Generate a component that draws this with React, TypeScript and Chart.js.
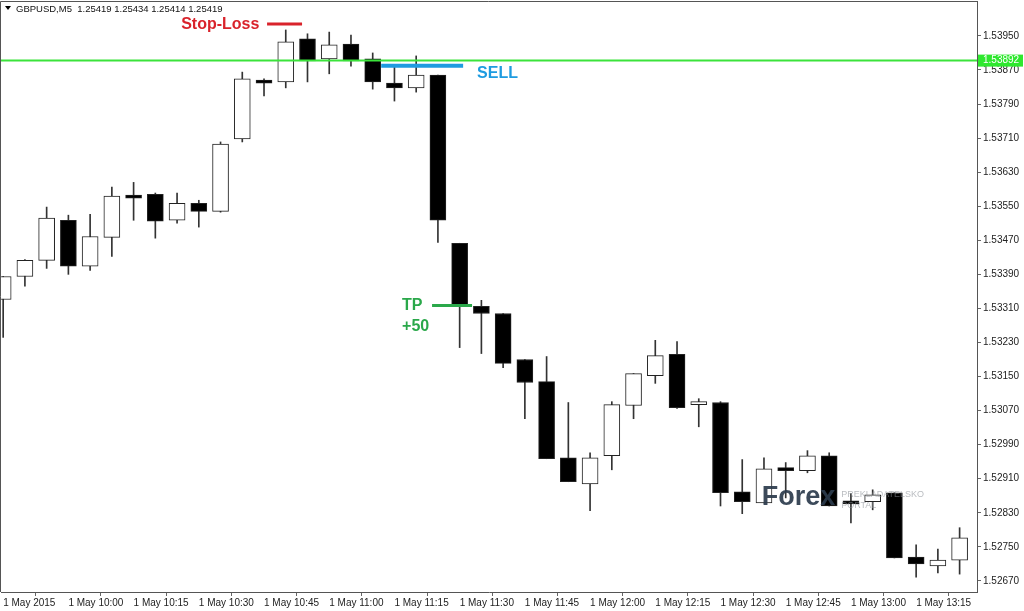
import React, { useEffect, useRef } from 'react';
import { Chart, registerables } from 'chart.js';

Chart.register(...registerables);

// ---- Data (GBPUSD M5, 1 May 2015, candles from 09:45) ----
const OPEN = [
  1.53331, 1.53385, 1.53423, 1.53517, 1.53409, 1.53477, 1.53571, 1.53578, 1.53517, 1.53557,
  1.53538, 1.53708, 1.53846, 1.53842, 1.53943, 1.53896, 1.53931, 1.53896, 1.53839, 1.53828,
  1.53858, 1.53463, 1.53315, 1.53298, 1.53190, 1.53138, 1.52959, 1.52898, 1.52964, 1.53082,
  1.53152, 1.53202, 1.53084, 1.53089, 1.52879, 1.52853, 1.52936, 1.52929, 1.52964, 1.52856,
  1.52856, 1.52877, 1.52726, 1.52705, 1.52719,
];
const HIGH = [
  1.53385, 1.53425, 1.53548, 1.53529, 1.53531, 1.53595, 1.53606, 1.53581, 1.53581, 1.53564,
  1.53701, 1.53865, 1.53849, 1.53964, 1.53955, 1.53959, 1.53952, 1.53910, 1.53877, 1.53903,
  1.53858, 1.53463, 1.53329, 1.53298, 1.53190, 1.53197, 1.53089, 1.52971, 1.53091, 1.53157,
  1.53235, 1.53232, 1.53098, 1.53091, 1.52955, 1.52959, 1.52948, 1.52976, 1.52971, 1.52875,
  1.52884, 1.52877, 1.52755, 1.52745, 1.52795,
];
const LOW = [
  1.53242, 1.53362, 1.53404, 1.53390, 1.53399, 1.53432, 1.53517, 1.53475, 1.53510, 1.53501,
  1.53536, 1.53701, 1.53809, 1.53828, 1.53842, 1.53861, 1.53879, 1.53825, 1.53797, 1.53818,
  1.53465, 1.53218, 1.53204, 1.53171, 1.53051, 1.52957, 1.52903, 1.52835, 1.52931, 1.53051,
  1.53134, 1.53075, 1.53032, 1.52846, 1.52828, 1.52853, 1.52865, 1.52924, 1.52846, 1.52806,
  1.52837, 1.52724, 1.52679, 1.52689, 1.52686,
];
const CLOSE = [
  1.53385, 1.53423, 1.53522, 1.53409, 1.53479, 1.53574, 1.53569, 1.53515, 1.53557, 1.53538,
  1.53696, 1.53849, 1.53839, 1.53936, 1.53891, 1.53929, 1.53891, 1.53842, 1.53828, 1.53858,
  1.53517, 1.53319, 1.53298, 1.53181, 1.53136, 1.52957, 1.52903, 1.52959, 1.53084, 1.53157,
  1.53199, 1.53077, 1.53089, 1.52877, 1.52856, 1.52933, 1.52929, 1.52964, 1.52846, 1.52851,
  1.52872, 1.52724, 1.52710, 1.52719, 1.52771,
];

const X_TICK_INDEX = [0, 3, 6, 9, 12, 15, 18, 21, 24, 27, 30, 33, 36, 39, 42];
const X_LABELS = [
  '1 May 2015', '1 May 10:00', '1 May 10:15', '1 May 10:30', '1 May 10:45',
  '1 May 11:00', '1 May 11:15', '1 May 11:30', '1 May 11:45', '1 May 12:00',
  '1 May 12:15', '1 May 12:30', '1 May 12:45', '1 May 13:00', '1 May 13:15',
];
const Y_TICKS = [
  1.52670, 1.52750, 1.52830, 1.52910, 1.52990, 1.53070, 1.53150, 1.53230, 1.53310,
  1.53390, 1.53470, 1.53550, 1.53630, 1.53710, 1.53790, 1.53870, 1.53950,
];

const HEADER = 'GBPUSD,M5  1.25419 1.25434 1.25414 1.25419';
const LEVEL_PRICE = 1.53892;
const STOP_LOSS = { from: 12.14, to: 13.75, price: 1.53978 };
const SELL = { from: 17.39, to: 21.16, price: 1.5388 };
const TP = { from: 19.73, to: 21.57, price: 1.53317 };

const X_MIN = -0.1;
const X_MAX = 44.8;
const Y_MIN = 1.52644;
const Y_MAX = 1.54032;

const FONT = '"Liberation Sans", Arial, sans-serif';

const overlayPlugin = {
  id: 'overlay',
  beforeDraw(chart: any) {
    const { ctx, width, height } = chart;
    ctx.save();
    ctx.fillStyle = '#ffffff';
    ctx.fillRect(0, 0, width, height);
    ctx.restore();
  },
  afterDraw(chart: any) {
    const { ctx, chartArea } = chart;
    const xs = chart.scales.x;
    const ys = chart.scales.y;
    ctx.save();
    // frame (left/top)
    ctx.strokeStyle = '#555';
    ctx.lineWidth = 1;
    ctx.beginPath();
    ctx.moveTo(0.5, chartArea.bottom);
    ctx.lineTo(0.5, chartArea.top + 0.5);
    ctx.lineTo(chartArea.right, chartArea.top + 0.5);
    ctx.stroke();

    // header
    ctx.fillStyle = '#000';
    ctx.beginPath();
    ctx.moveTo(5, 6);
    ctx.lineTo(11, 6);
    ctx.lineTo(8, 10);
    ctx.closePath();
    ctx.fill();
    ctx.font = `9.5px ${FONT}`;
    ctx.textBaseline = 'middle';
    ctx.textAlign = 'left';
    ctx.fillStyle = '#111';
    ctx.fillText(HEADER, 16, 9);

    // annotation texts
    ctx.font = `bold 16px ${FONT}`;
    ctx.fillStyle = '#d9232b';
    ctx.fillText('Stop-Loss', xs.getPixelForValue(8.19), ys.getPixelForValue(1.53976));
    ctx.fillStyle = '#1e9be0';
    ctx.fillText('SELL', xs.getPixelForValue(21.8), ys.getPixelForValue(1.53861));
    ctx.fillStyle = '#2aa84a';
    ctx.fillText('TP', xs.getPixelForValue(18.35), ys.getPixelForValue(1.53317));
    ctx.fillText('+50', xs.getPixelForValue(18.35), ys.getPixelForValue(1.53268));

    // watermark
    ctx.globalAlpha = 0.92;
    ctx.fillStyle = '#2b3b4c';
    ctx.font = `bold 27px ${FONT}`;
    ctx.fillText('Forex', xs.getPixelForValue(34.9), ys.getPixelForValue(1.52865));
    ctx.globalAlpha = 0.6;
    ctx.fillStyle = '#8a8f96';
    ctx.font = `9px ${FONT}`;
    ctx.fillText('PREKLADATELSKO', xs.getPixelForValue(38.55), ys.getPixelForValue(1.52873));
    ctx.fillText('PORTAL', xs.getPixelForValue(38.55), ys.getPixelForValue(1.52847));
    ctx.globalAlpha = 1;

    // price label on axis
    const py = ys.getPixelForValue(LEVEL_PRICE);
    ctx.fillStyle = '#2ee82e';
    ctx.fillRect(chartArea.right + 1, py - 6, 45, 12);
    ctx.fillStyle = '#ffffff';
    ctx.font = `10px ${FONT}`;
    ctx.fillText(LEVEL_PRICE.toFixed(5), chartArea.right + 6, py);
    ctx.restore();
  },
};

export default function App() {
  const ref = useRef<HTMLCanvasElement | null>(null);

  useEffect(() => {
    if (!ref.current) return;
    const idx = OPEN.map((_, i) => i);
    const wicks = idx.map((i) => ({ x: i, y: [LOW[i], HIGH[i]] }));
    const bodies = idx.map((i) => ({ x: i, y: [OPEN[i], CLOSE[i]] }));
    const bodyColors = idx.map((i) => (CLOSE[i] >= OPEN[i] ? '#ffffff' : '#000000'));
    const seg = (a: number, b: number, p: number) => [
      { x: a, y: p },
      { x: b, y: p },
    ];

    const chart = new Chart(ref.current, {
      type: 'bar',
      data: {
        datasets: [
          {
            type: 'line',
            data: seg(X_MIN, X_MAX, LEVEL_PRICE),
            borderColor: '#3be33b',
            borderWidth: 2,
            pointRadius: 0,
            order: 0,
          } as any,
          {
            type: 'line',
            data: seg(STOP_LOSS.from, STOP_LOSS.to, STOP_LOSS.price),
            borderColor: '#d9232b',
            borderWidth: 3,
            pointRadius: 0,
            order: 0,
          } as any,
          {
            type: 'line',
            data: seg(SELL.from, SELL.to, SELL.price),
            borderColor: '#1e9be0',
            borderWidth: 4,
            pointRadius: 0,
            order: 0,
          } as any,
          {
            type: 'line',
            data: seg(TP.from, TP.to, TP.price),
            borderColor: '#2aa84a',
            borderWidth: 3,
            pointRadius: 0,
            order: 0,
          } as any,
          {
            type: 'bar',
            data: bodies,
            backgroundColor: bodyColors,
            borderColor: '#222',
            borderWidth: 1,
            borderSkipped: false,
            barThickness: 16,
            minBarLength: 3,
            grouped: false,
            order: 1,
          } as any,
          {
            type: 'bar',
            data: wicks,
            backgroundColor: '#333',
            borderWidth: 0,
            barThickness: 1,
            grouped: false,
            order: 2,
          } as any,
        ],
      },
      options: {
        animation: false,
        responsive: false,
        devicePixelRatio: 1,
        layout: { padding: { left: 1, top: 1, right: 0, bottom: 0 } },
        plugins: { legend: { display: false }, tooltip: { enabled: false } },
        scales: {
          x: {
            type: 'linear',
            min: X_MIN,
            max: X_MAX,
            offset: false,
            afterBuildTicks: (s: any) => {
              s.ticks = X_TICK_INDEX.map((v) => ({ value: v }));
            },
            afterFit: (s: any) => {
              s.height = 19;
              s.paddingLeft = 0;
              s.paddingRight = 0;
            },
            grid: { drawOnChartArea: false, drawTicks: true, tickLength: 4, color: '#666' },
            border: { display: true, color: '#555', width: 1 },
            ticks: {
              autoSkip: false,
              maxRotation: 0,
              minRotation: 0,
              align: 'start',
              padding: 1,
              color: '#222',
              font: { family: FONT, size: 10 },
              callback: (_v: any, i: number) => X_LABELS[i],
            },
          },
          y: {
            type: 'linear',
            position: 'right',
            min: Y_MIN,
            max: Y_MAX,
            afterBuildTicks: (s: any) => {
              s.ticks = Y_TICKS.map((v) => ({ value: v }));
            },
            afterFit: (s: any) => {
              s.width = 47;
              s.paddingTop = 0;
              s.paddingBottom = 0;
            },
            grid: { drawOnChartArea: false, drawTicks: true, tickLength: 4, color: '#666' },
            border: { display: true, color: '#555', width: 1 },
            ticks: {
              autoSkip: false,
              padding: 2,
              color: '#222',
              font: { family: FONT, size: 10 },
              callback: (v: any) => Number(v).toFixed(5),
            },
          },
        },
      } as any,
      plugins: [overlayPlugin],
    });
    return () => chart.destroy();
  }, []);

  return (
    <div style={{ position: 'fixed', left: 0, top: 0, width: 1024, height: 611, background: '#fff' }}>
      <canvas ref={ref} width={1024} height={611} style={{ width: 1024, height: 611, display: 'block' }} />
    </div>
  );
}
